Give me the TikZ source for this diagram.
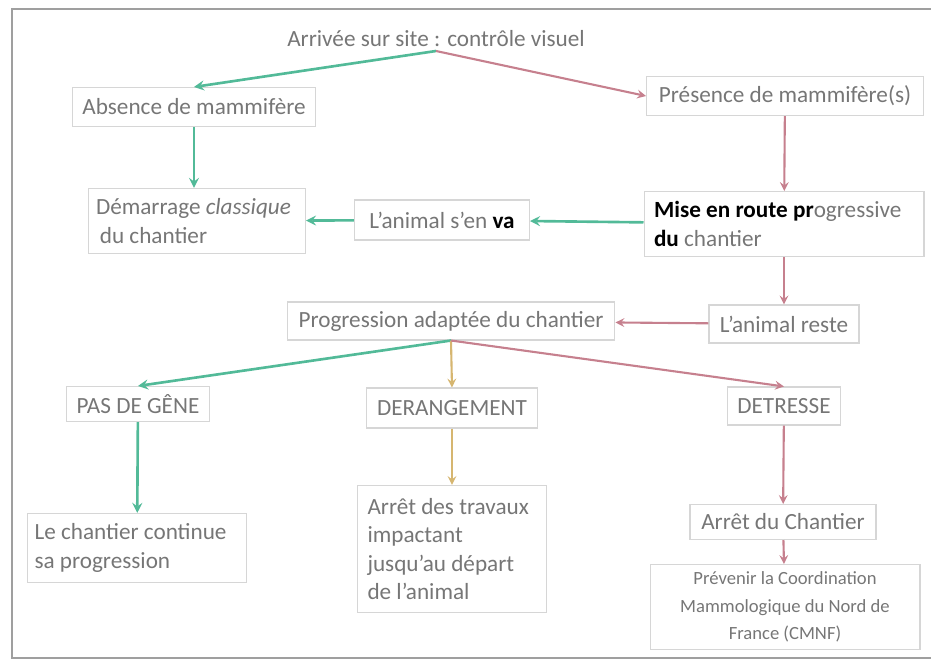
\documentclass[tikz,border=0pt]{standalone}
\usepackage{fontspec}
\setmainfont{Carlito}
\usetikzlibrary{arrows.meta}

\definecolor{vert}{RGB}{82,186,152}
\definecolor{rose}{RGB}{198,128,142}
\definecolor{ocre}{RGB}{214,182,112}
\definecolor{texte}{RGB}{118,118,118}
\definecolor{bord}{RGB}{214,214,214}

\begin{document}
\begin{tikzpicture}[x=0.02cm, y=-0.02cm,
    box/.style={draw=bord, line width=0.6pt, text=texte, font=\fontsize{13.2}{16}\selectfont, inner sep=0pt},
    gauche/.style={align=flush left, inner xsep=#1},
    flvert/.style={->, >=stealth, color=vert, line width=1.5pt},
    flrose/.style={->, >=stealth, color=rose, line width=1.2pt},
    flocre/.style={->, >=stealth, color=ocre, line width=1.2pt}]
    \useasboundingbox (0,0) rectangle (931,661);
    % cadre
    \draw [color=gray!75, line width=1.2pt] (945,9) -- (12,9) -- (12,658) -- (945,658);

    \node (arrivee) at (436,39) [text=texte, font=\fontsize{13.2}{16}\selectfont, inner sep=2pt] {Arrivée sur site : contrôle visuel};
    \node (absence) at (194,107) [box, minimum width=4.86cm, minimum height=0.78cm] {Absence de mammifère};
    \node (presence) at (785,96) [box, minimum width=5.54cm, minimum height=0.78cm] {Présence de mammifère(s)};
    \node (demarrage) at (197,221) [box, gauche=0.15cm, text width=4.04cm, minimum height=1.3cm] {Démarrage \textit{classique}\\ \,du chantier};
    \node (senva) at (442,220) [box, minimum width=3.5cm, minimum height=0.8cm] {L’animal s’en {\color{black}\bfseries va}};
    \node (miseroute) at (784,224) [box, gauche=0.2cm, text width=5.2cm, minimum height=1.3cm] {{\color{black}\bfseries Mise en route pr}ogressive\\{\color{black}\bfseries du} chantier};
    \node (reste) at (784,324) [box, minimum width=3cm, minimum height=0.76cm] {L’animal reste};
    \node (progression) at (451,321) [box, minimum width=6.56cm, minimum height=0.76cm] {Progression adaptée du chantier};
    \node (pasgene) at (138,404) [box, minimum width=2.86cm, minimum height=0.7cm] {PAS DE GÊNE};
    \node (derangement) at (452,408) [box, minimum width=3.42cm, minimum height=0.8cm] {DERANGEMENT};
    \node (detresse) at (784,406) [box, minimum width=2.26cm, minimum height=0.76cm] {DETRESSE};
    \node (continue) at (137,548) [box, gauche=0.14cm, text width=4.1cm, minimum height=1.38cm] {Le chantier continue\\sa progression};
    \node (travaux) at (452,549) [box, gauche=0.2cm, text width=3.38cm, minimum height=2.54cm] {Arrêt des travaux\\impactant\\jusqu’au départ\\de l’animal};
    \node (arret) at (783,522) [box, minimum width=3.72cm, minimum height=0.7cm] {Arrêt du Chantier};
    \node (prevenir) at (785,607) [box, align=center, font=\fontsize{10.6}{15.5}\selectfont, minimum width=5.4cm, minimum height=1.7cm] {Prévenir la Coordination\\Mammologique du Nord de\\France (CMNF)};

    \draw [flvert] (arrivee.south) -- (absence.north);
    \draw [flrose] (arrivee.south) -- (presence.west);
    \draw [flvert] (absence.south) -- (absence.south |- demarrage.north);
    \draw [flrose] (presence) -- (miseroute);
    \draw [flvert] (miseroute) -- (senva);
    \draw [flvert] (senva) -- (demarrage);
    \draw [flrose] (miseroute) -- (reste);
    \draw [flrose] (reste) -- (progression);
    \draw [flvert] (progression.south) -- (pasgene.north);
    \draw [flocre] (progression.south) -- (derangement.north);
    \draw [flrose] (progression.south) -- (detresse.north);
    \draw [flvert] (pasgene) -- (continue);
    \draw [flocre] (derangement) -- (travaux);
    \draw [flrose] (detresse) -- (arret);
    \draw [flrose] (arret) -- (prevenir);
\end{tikzpicture}
\end{document}
